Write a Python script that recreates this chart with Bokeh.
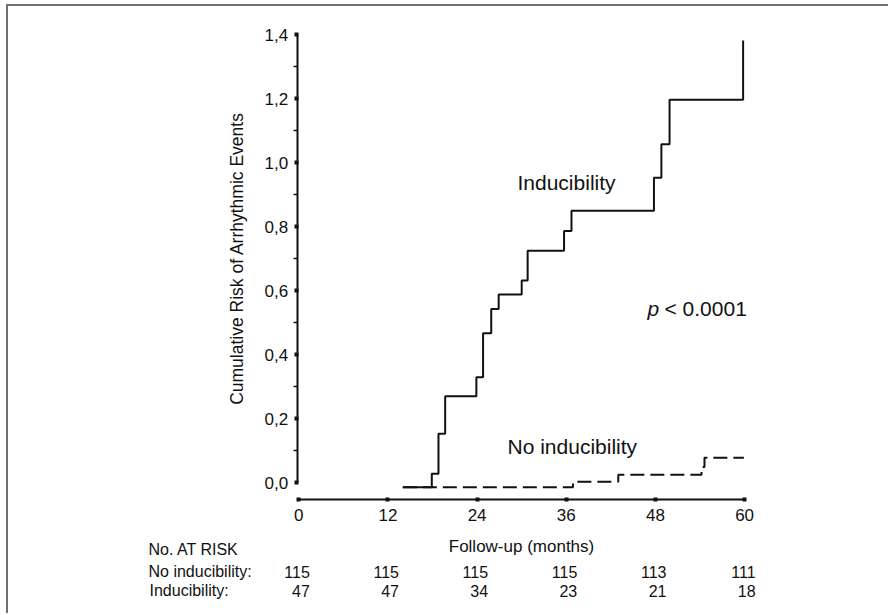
from bokeh.plotting import figure
from bokeh.models import (Range1d, FixedTicker, CustomJSTickFormatter, Label,
                          LabelSet, ColumnDataSource)
from bokeh.core.properties import value
from bokeh.embed import file_html
from bokeh.resources import INLINE

# ---------------- data ----------------
ind_months = [14.0, 17.9, 18.8, 19.7, 23.9, 24.8, 25.9, 26.9, 30.0, 30.8,
              35.7, 36.7, 47.8, 48.8, 49.9, 59.8]
ind_risk = [-0.014, 0.028, 0.153, 0.270, 0.330, 0.467, 0.543, 0.588, 0.632,
            0.725, 0.786, 0.850, 0.953, 1.057, 1.196, 1.381]
noind_months = [14.0, 36.9, 43.0, 54.2, 54.6, 59.9]
noind_risk = [-0.014, 0.003, 0.025, 0.049, 0.078, 0.078]

y_ticks = [0.0, 0.2, 0.4, 0.6, 0.8, 1.0, 1.2, 1.4]
y_minor_ticks = [0.1, 0.3, 0.5, 0.7, 0.9, 1.1, 1.3]
x_ticks = [0, 12, 24, 36, 48, 60]

risk_times = [0, 12, 24, 36, 48, 60]
at_risk_noind = [115, 115, 115, 115, 113, 111]
at_risk_ind = [47, 47, 34, 23, 21, 18]

y_label = "Cumulative Risk of Arrhythmic Events"
x_label = "Follow-up (months)"
table_title = "No. AT RISK"
row_labels = ["No inducibility:", "Inducibility:"]
curve_labels = ["Inducibility", "No inducibility"]
p_text = ["p", "< 0.0001"]

# ---------------- layout ----------------
FONT = "Liberation Sans"
INK = "#111111"
OX, OY = 8, 6                 # canvas origin on the page (inside the border)
W, H = 882, 609
PX0, PXM = 298.3, 7.43        # page x of month 0, px per month
PY0, PYV = 482.3, 320.2       # page y of risk 0, px per unit


def dx(px):
    return (px - PX0) / PXM


def dy(py):
    return (PY0 - py) / PYV


X0, X1 = dx(OX), dx(OX + W)
Y0, Y1 = dy(OY + H), dy(OY)

p = figure(width=W, height=H, output_backend="svg", toolbar_location=None,
           x_range=Range1d(X0, X1), y_range=Range1d(Y0, Y1),
           min_border=0,
           styles={"margin-left": "6px", "margin-top": "4px",
                   "border-left": "2px solid #707070",
                   "border-top": "2px solid #707070"})
p.title.visible = False
p.outline_line_color = None
p.xgrid.visible = False
p.ygrid.visible = False
p.background_fill_color = "white"
p.border_fill_color = "white"

# y axis (drawn inside the frame at a fixed position)
ya = p.yaxis[0]
ya.fixed_location = dx(296.7)
ya.ticker = FixedTicker(ticks=y_ticks, minor_ticks=y_minor_ticks)
ya.formatter = CustomJSTickFormatter(code="return tick.toFixed(1).replace('.', ',');")
ya.bounds = (0, 1.4)
ya.axis_line_width = 2
ya.axis_line_color = INK
ya.major_tick_in = 1
ya.major_tick_out = 3
ya.major_tick_line_width = 4
ya.major_tick_line_color = INK
ya.minor_tick_in = 0
ya.minor_tick_out = 4
ya.minor_tick_line_width = 1.5
ya.minor_tick_line_color = INK
ya.major_label_text_font = FONT
ya.major_label_text_font_size = "17px"
ya.major_label_text_color = INK
ya.major_label_standoff = 5
ya.axis_label = y_label
ya.axis_label_text_font = FONT
ya.axis_label_text_font_size = "17.5px"
ya.axis_label_text_font_style = "normal"
ya.axis_label_text_color = INK
ya.axis_label_standoff = 15

# x axis
xa = p.xaxis[0]
xa.fixed_location = dy(498.5)
xa.ticker = FixedTicker(ticks=x_ticks, minor_ticks=[])
xa.bounds = (0, 60)
xa.axis_line_width = 2
xa.axis_line_color = INK
xa.major_tick_in = 2
xa.major_tick_out = 2
xa.major_tick_line_width = 4
xa.major_tick_line_color = INK
xa.minor_tick_line_color = None
xa.major_label_text_font = FONT
xa.major_label_text_font_size = "17px"
xa.major_label_text_color = INK
xa.major_label_standoff = 8
xa.axis_label = x_label
xa.axis_label_text_font = FONT
xa.axis_label_text_font_size = "17px"
xa.axis_label_text_font_style = "normal"
xa.axis_label_text_color = INK
xa.axis_label_standoff = 12

# curves
p.step(ind_months, ind_risk, mode="after", line_color=INK, line_width=2)
p.step(noind_months, noind_risk, mode="after", line_color=INK,
       line_width=2, line_dash="14 6")


def add_label(txt, px, py, size="21px", style="normal", align="left",
              baseline="alphabetic"):
    p.add_layout(Label(x=dx(px), y=dy(py), text=txt, text_font=FONT,
                       text_font_size=size, text_font_style=style,
                       text_color=INK, text_align=align,
                       text_baseline=baseline))


# in-plot texts
add_label(curve_labels[0], 517, 182)
add_label(curve_labels[1], 507, 446)
add_label(p_text[0], 647, 308, style="italic")
add_label(p_text[1], 664, 308)

# at-risk table
add_label(table_title, 148, 549, size="16px", baseline="middle")
add_label(row_labels[0], 148, 571, size="16px", baseline="middle")
add_label(row_labels[1], 149, 590, size="16px", baseline="middle")

for counts, py in [(at_risk_noind, 571), (at_risk_ind, 590)]:
    src = ColumnDataSource(dict(x=risk_times, y=[dy(py)] * len(risk_times),
                                t=[str(c) for c in counts]))
    p.add_layout(LabelSet(x="x", y="y", text="t", source=src, x_offset=11,
                          text_align="right", text_baseline="middle",
                          text_font=value(FONT),
                          text_font_size=value("16px"),
                          text_color=INK))

open("out.html", "w").write(file_html(p, INLINE))
